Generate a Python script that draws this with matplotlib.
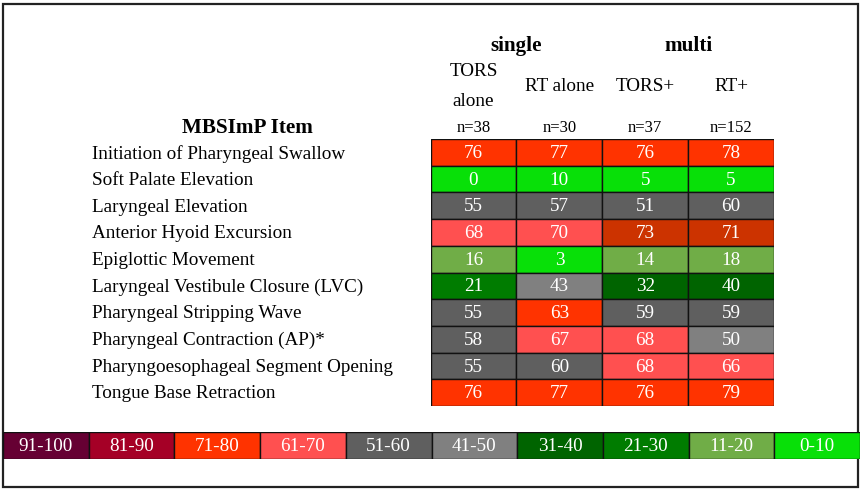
import matplotlib
matplotlib.use("Agg")
import matplotlib.pyplot as plt
from matplotlib.patches import Rectangle
import numpy as np

plt.rcParams['font.family'] = ['Liberation Serif', 'DejaVu Serif']

# ---------------- data ----------------
items = [
    "Initiation of Pharyngeal Swallow",
    "Soft Palate Elevation",
    "Laryngeal Elevation",
    "Anterior Hyoid Excursion",
    "Epiglottic Movement",
    "Laryngeal Vestibule Closure (LVC)",
    "Pharyngeal Stripping Wave",
    "Pharyngeal Contraction (AP)*",
    "Pharyngoesophageal Segment Opening",
    "Tongue Base Retraction",
]
groups = ["single", "multi"]
columns = ["TORS\nalone", "RT alone", "TORS+", "RT+"]
n_labels = ["n=38", "n=30", "n=37", "n=152"]
values = [
    [76, 77, 76, 78],
    [0, 10, 5, 5],
    [55, 57, 51, 60],
    [68, 70, 73, 71],
    [16, 3, 14, 18],
    [21, 43, 32, 40],
    [55, 63, 59, 59],
    [58, 67, 68, 50],
    [55, 60, 68, 66],
    [76, 77, 76, 79],
]
legend_bins = ["91-100", "81-90", "71-80", "61-70", "51-60",
               "41-50", "31-40", "21-30", "11-20", "0-10"]

# ---------------- styles ----------------
bin_colors = ["#660033", "#A50026", "#FF3300", "#FF5050", "#5F5F5F",
              "#808080", "#006400", "#007C00", "#70AD47", "#08E008"]
C = dict(zip(legend_bins, bin_colors))
DARK_ORANGE = "#CC3300"
cell_colors = [
    [C["71-80"]] * 4,
    [C["0-10"]] * 4,
    [C["51-60"]] * 4,
    [C["61-70"], C["61-70"], DARK_ORANGE, DARK_ORANGE],
    [C["11-20"], C["0-10"], C["11-20"], C["11-20"]],
    [C["21-30"], C["41-50"], C["31-40"], C["31-40"]],
    [C["51-60"], C["71-80"], C["51-60"], C["51-60"]],
    [C["51-60"], C["61-70"], C["61-70"], C["41-50"]],
    [C["51-60"], C["51-60"], C["61-70"], C["61-70"]],
    [C["71-80"]] * 4,
]

FS = 13.8
FS_BOLD = 15.2
FS_N = 12

W, H = 863, 490
fig = plt.figure(figsize=(W / 100, H / 100), dpi=100)

# full-figure pixel axes for layout text / frame
base = fig.add_axes([0, 0, 1, 1])
base.set_xlim(0, W)
base.set_ylim(H, 0)
base.axis("off")

# outer frame
base.add_patch(Rectangle((3, 4), 855, 483, fill=False, ec="#222222", lw=1.6))

# ---------------- heat table ----------------
tx0, tx1, ty0, ty1 = 430.5, 774, 139, 406
ax = fig.add_axes([tx0 / W, 1 - ty1 / H, (tx1 - tx0) / W, (ty1 - ty0) / H])
nrow, ncol = len(values), len(columns)
ax.set_xlim(0, ncol)
ax.set_ylim(nrow, 0)
ax.axis("off")
for i in range(nrow):
    for j in range(ncol):
        ax.add_patch(Rectangle((j, i), 1, 1, fc=cell_colors[i][j],
                               ec="#111111", lw=1.0))
        ax.text(j + 0.5, i + 0.54, str(values[i][j]), ha="center",
                va="center", color="white", fontsize=FS)

colw = (tx1 - tx0) / ncol
rowh = (ty1 - ty0) / nrow
for i, lab in enumerate(items):
    base.text(92, ty0 + (i + 0.55) * rowh, lab, ha="left", va="center",
              fontsize=FS, color="black")

for j, (c, n) in enumerate(zip(columns, n_labels)):
    cx = tx0 + (j + 0.5) * colw
    base.text(cx, 86.5, c, ha="center", va="center", fontsize=FS,
              linespacing=1.95)
    base.text(cx, 128, n, ha="center", va="center", fontsize=FS_N)

for g, gi in enumerate(groups):
    base.text(tx0 + (2 * g + 1) * colw, 46, gi, ha="center", va="center",
              fontsize=FS_BOLD, fontweight="bold")

base.text(247, 128, "MBSImP Item", ha="center", va="center",
          fontsize=FS_BOLD, fontweight="bold")

# ---------------- legend bar ----------------
lx0, lx1, ly0, ly1 = 3, 860, 432, 459
lax = fig.add_axes([lx0 / W, 1 - ly1 / H, (lx1 - lx0) / W, (ly1 - ly0) / H])
nb = len(legend_bins)
lax.set_xlim(0, nb)
lax.set_ylim(1, 0)
lax.axis("off")
for k, (lab, col) in enumerate(zip(legend_bins, bin_colors)):
    lax.add_patch(Rectangle((k, 0), 1, 1, fc=col, ec="#111111", lw=1.0))
    lax.text(k + 0.5, 0.54, lab, ha="center", va="center", color="white",
             fontsize=FS)

fig.savefig("out.png", dpi=100)
